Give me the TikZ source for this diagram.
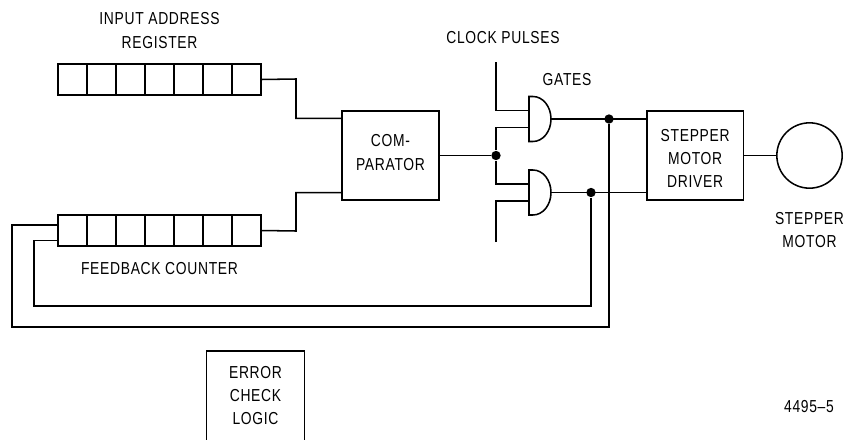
\documentclass[tikz,border=0pt]{standalone}
\usepackage{fontspec}
\setmainfont[FakeStretch=0.8,LetterSpace=4]{Liberation Sans}
\usetikzlibrary{shapes, positioning}

\begin{document}
\begin{tikzpicture}[x=0.75pt, y=-0.75pt, line width=1.15pt, font=\fontsize{13}{17.6}\selectfont]

    % Define styles for the different parts
    \tikzstyle{cell} = [draw, rectangle, minimum width=21.75pt, minimum height=23.25pt, inner sep=0pt, outer sep=0pt]
    \tikzstyle{block} = [draw, rectangle, minimum width=72.5pt, minimum height=66.75pt, inner sep=0pt, outer sep=0pt]
    \tikzstyle{gate} = [rectangle, minimum width=16.5pt, minimum height=33.75pt, inner sep=0pt, outer sep=0pt]
    \tikzstyle{motor} = [draw, circle, minimum size=49pt, inner sep=0pt, outer sep=0pt]
    \tikzstyle{joint} = [fill, circle, minimum size=7pt, inner sep=0pt]
    \tikzstyle{caption} = [align=center, inner sep=0pt]

    \useasboundingbox (0,0) rectangle (845,439);

    % Registers
    \node (inreg1) [cell] at (72.5,79.5) {};
    \foreach \i [remember=\i as \lasti (initially 1)] in {2,...,7}
        \node (inreg\i) [cell, right=0pt of inreg\lasti] {};
    \node (fbreg1) [cell, below=90pt of inreg1] {};
    \foreach \i [remember=\i as \lasti (initially 1)] in {2,...,7}
        \node (fbreg\i) [cell, right=0pt of fbreg\lasti] {};

    \node (inlabel) [caption, above=11pt of inreg4] {INPUT ADDRESS\\REGISTER};
    \node (fblabel) [caption, below=11.5pt of fbreg4] {FEEDBACK COUNTER};

    % Main chain
    \node (comparator) [block] at (390.5,155.5) {};
    \node (cmptext) [caption] at ([yshift=2.2pt]comparator.center) {COM-\\PARATOR};
    \node (driver) [block, right=156pt of comparator] {};
    \node (drivertext) [caption] at ([yshift=-2.2pt]driver.center) {STEPPER\\MOTOR\\DRIVER};
    \node (stepper) [motor, right=25pt of driver] {};
    \node (motorlabel) [caption, below=17.5pt of stepper] {STEPPER\\MOTOR};
    \node (gatea) [gate] at (540,119) {};
    \node (gateb) [gate] at (540,192.5) {};
    \node (gateslabel) [caption] at (567,80) {GATES};
    \node (clocklabel) [caption] at (503,38) {CLOCK PULSES};
    \node (errorlogic) [caption, minimum width=72.5pt, minimum height=65.25pt] at (255.5,395.5) {ERROR\\CHECK\\LOGIC};
    \node (partno) [caption] at (809,407) {4495--5};

    % Gate outlines
    \foreach \g in {gatea, gateb}
        \draw (\g.south west) -- (\g.north west) -- ++(3pt,0pt) arc[x radius=13.5pt, y radius=16.875pt, start angle=90, end angle=-90] -- cycle;

    % Free ends and bends
    \coordinate (clocktop) at (496,62);
    \coordinate (clockbot) at (496,242);
    \coordinate (bendin) at (296,79);
    \coordinate (bendfb) at (296,231);
    \coordinate (cmpin) at ([yshift=-5.5pt]comparator.north west);
    \coordinate (cmpfb) at ([yshift=5.5pt]comparator.south west);
    \coordinate (outerloop) at (12,327);
    \coordinate (innerloop) at (34,306);

    \node (split) [joint] at (comparator.east -| clocktop) {};
    \node (upper) [joint] at (609,119) {};
    \node (lower) [joint] at (591,192.5) {};

    \draw (inreg7.east) -- (bendin) |- (cmpin);
    \draw (fbreg7.east) -- (bendfb) |- (cmpfb);
    \draw (comparator.east) -- (split);
    \draw (clocktop) |- ([yshift=6.4pt]gatea.west);
    \draw (split) |- ([yshift=-6.4pt]gatea.west);
    \draw (split) |- ([yshift=6.4pt]gateb.west);
    \draw (clockbot) |- ([yshift=-6.4pt]gateb.west);
    \draw (gatea.east) -- (gatea.east -| driver.west);
    \draw (gateb.east) -- (gateb.east -| driver.west);
    \draw (driver.east) -- (stepper.west);

    % Feedback loops
    \draw (upper) |- (outerloop) |- ([yshift=4.25pt]fbreg1.west);
    \draw (lower) |- (innerloop) |- ([yshift=-7.5pt]fbreg1.west);

    % Open at the bottom of the page
    \draw (errorlogic.south west) -- (errorlogic.north west) -- (errorlogic.north east) -- (errorlogic.south east);

\end{tikzpicture}
\end{document}
